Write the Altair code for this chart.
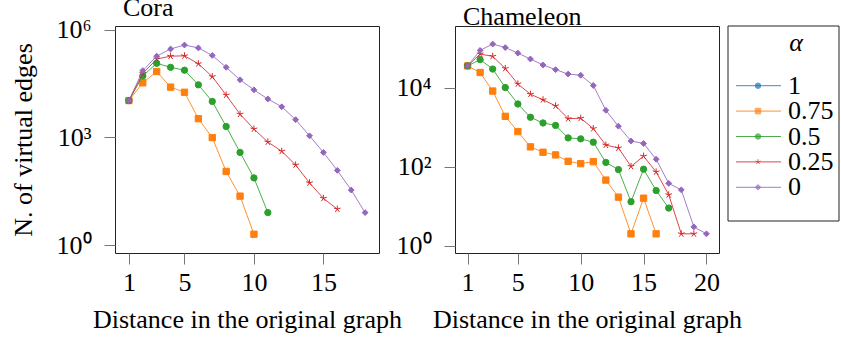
import altair as alt
import pandas as pd

FONT = "Liberation Serif"
FS = 26

ALPHAS = ["1", "0.75", "0.5", "0.25", "0"]
COLORS = ["#1f77b4", "#ff7f0e", "#2ca02c", "#d62728", "#9467bd"]
STAR = "M0,0L0,-1M0,0L0.951,-0.309M0,0L0.588,0.809M0,0L-0.588,0.809M0,0L-0.951,-0.309"
SHAPES = ["circle", "square", "circle", STAR, "diamond"]
SIZES = {"1": 36, "0.75": 40, "0.5": 40, "0.25": 50, "0": 34}

# ---- Cora (distance starts at 1) ----
cora_a1 = [10556]
cora_a075 = [10556, 33000, 68000, 25000, 18000, 3300, 980, 112, 23, 2]
cora_a05 = [10556, 51000, 115000, 89000, 74000, 29000, 10000, 2000, 380, 74, 8]
cora_a025 = [10556, 60000, 151000, 182000, 186000, 112000, 49000, 15000, 4400,
             1700, 740, 410, 170, 54, 20, 10]
cora_a0 = [10556, 72000, 182000, 288000, 372000, 309000, 191000, 89000, 40000,
           21000, 11700, 7100, 3100, 1100, 380, 120, 34, 8]

# ---- Chameleon (distance starts at 1) ----
cham_a1 = [36101]
cham_a075 = [36101, 24500, 8300, 1900, 780, 320, 234, 200, 138, 120, 135, 46, 17,
             2, 16, 2]
cham_a05 = [36101, 52000, 30000, 10200, 3900, 1800, 1290, 1120, 540, 510, 420, 129,
            85, 13, 87, 25, 9]
cham_a025 = [36101, 72000, 63000, 31000, 12600, 6900, 5000, 3500, 1660, 1700, 930,
             355, 300, 102, 186, 74, 19.5, 2, 2]
cham_a0 = [36101, 89000, 129000, 105000, 76000, 54000, 38000, 29000, 22400, 20900,
           11500, 2700, 1070, 450, 390, 155, 38, 26, 3, 2]

cora_series = dict(zip(ALPHAS, [cora_a1, cora_a075, cora_a05, cora_a025, cora_a0]))
cham_series = dict(zip(ALPHAS, [cham_a1, cham_a075, cham_a05, cham_a025, cham_a0]))

cora_xticks = [1, 5, 10, 15]
cham_xticks = [1, 5, 10, 15, 20]

color_scale = alt.Scale(domain=ALPHAS, range=COLORS)
shape_scale = alt.Scale(domain=ALPHAS, range=SHAPES)


def to_df(series):
    rows = []
    for a, vals in series.items():
        for i, v in enumerate(vals):
            rows.append({"alpha": a, "dist": i + 1, "value": v})
    return pd.DataFrame(rows)


def panel(series, xdomain, xticks, ydomain, yticks, ylabels, ytitle):
    df = to_df(series)
    label_expr = " : ".join(
        f"datum.value < {t * 1.5} ? '{l}'" for t, l in zip(yticks[:-1], ylabels[:-1])
    ) + f" : '{ylabels[-1]}'"
    x = alt.X("dist:Q", scale=alt.Scale(domain=xdomain, nice=False, zero=False),
              axis=alt.Axis(values=xticks, title="Distance in the original graph",
                            tickSize=11, labelPadding=5, titlePadding=11,
                            domain=False, grid=False, labelAngle=0))
    yaxis_kwargs = dict(values=yticks, labelExpr=label_expr, tickSize=11,
                        labelPadding=13, domain=False, grid=False,
                        minExtent=70, maxExtent=70)
    if ytitle:
        yaxis_kwargs.update(title=ytitle, titlePadding=9)
    else:
        yaxis_kwargs.update(title=None)
    y = alt.Y("value:Q", scale=alt.Scale(type="log", domain=ydomain, nice=False),
              axis=alt.Axis(**yaxis_kwargs))
    layers = []
    for a in ALPHAS:
        sub = alt.Chart(df[df["alpha"] == a])
        enc = dict(x=x, y=y,
                   color=alt.Color("alpha:N", scale=color_scale, legend=None))
        layers.append(sub.mark_line(strokeWidth=1, opacity=0.85).encode(**enc))
        layers.append(sub.mark_point(filled=True, opacity=1, strokeWidth=1,
                                     size=SIZES[a]).encode(
            shape=alt.Shape("alpha:N", scale=shape_scale, legend=None),
            stroke=alt.Stroke("alpha:N", scale=color_scale, legend=None),
            **enc))
    return alt.layer(*layers)


cora = panel(cora_series, [0, 19], cora_xticks, [0.6, 1.26e6],
             [1, 1000, 1000000], ["10⁰", "10³", "10⁶"], "N. of virtual edges")
cham = panel(cham_series, [0, 21], cham_xticks, [0.653, 3.7e5],
             [1, 100, 10000], ["10⁰", "10²", "10⁴"], None)

# ---- legend drawn inside the Chameleon panel (to its right) ----
leg_df = pd.DataFrame({"alpha": ALPHAS})
ly = alt.Y("alpha:N", scale=alt.Scale(domain=ALPHAS, range=[47, 174], padding=0),
           axis=None)
lcol = alt.Color("alpha:N", scale=color_scale, legend=None)
leg_rule = alt.Chart(leg_df).mark_rule(strokeWidth=1, opacity=0.85).encode(
    x=alt.value(281), x2=alt.value(326), y=ly, color=lcol)
leg_pt = alt.Chart(leg_df).mark_point(filled=True, size=30, strokeWidth=1).encode(
    x=alt.value(303), y=ly, color=lcol,
    stroke=alt.Stroke("alpha:N", scale=color_scale, legend=None),
    shape=alt.Shape("alpha:N", scale=shape_scale, legend=None))
leg_txt = alt.Chart(leg_df).mark_text(align="left", baseline="middle", fontSize=FS,
                                      font=FONT, color="#000").encode(
    x=alt.value(333), y=ly, text="alpha:N")
legend_layer = alt.layer(leg_rule, leg_pt, leg_txt)

one = pd.DataFrame({"t": ["α"]})
leg_title = alt.Chart(one).mark_text(fontSize=FS, font=FONT, fontStyle="italic",
                                     align="center", baseline="middle",
                                     color="#000").encode(
    x=alt.value(341), y=alt.value(17), text="t:N")
leg_box = alt.Chart(one).mark_rect(filled=False, stroke="#222", strokeWidth=1).encode(
    x=alt.value(273), x2=alt.value(384), y=alt.value(0), y2=alt.value(195))

title_kw = dict(anchor="start", frame="group", dx=8, fontSize=FS, font=FONT,
                fontWeight="normal", color="#000", offset=-4)

cora_c = cora.properties(width=264, height=227,
                         title=alt.TitleParams("Cora", **title_kw))
cham_c = alt.layer(cham, legend_layer, leg_title, leg_box).resolve_scale(
    y="independent").properties(width=264, height=227,
                                title=alt.TitleParams("Chameleon", **title_kw))

chart = alt.hconcat(cora_c, cham_c, spacing=76, bounds="flush").properties(
    padding={"left": 9, "top": -6, "right": 0, "bottom": 0}
).configure(
    background="white", font=FONT
).configure_view(
    stroke="#222", strokeWidth=1
).configure_axis(
    labelFont=FONT, titleFont=FONT, labelFontSize=FS, titleFontSize=FS,
    titleFontWeight="normal", labelColor="#000", titleColor="#000",
    tickColor="#777"
).configure_text(font=FONT).configure_title(font=FONT)

chart.save("out.html", embed_options={"renderer": "svg", "actions": False})
